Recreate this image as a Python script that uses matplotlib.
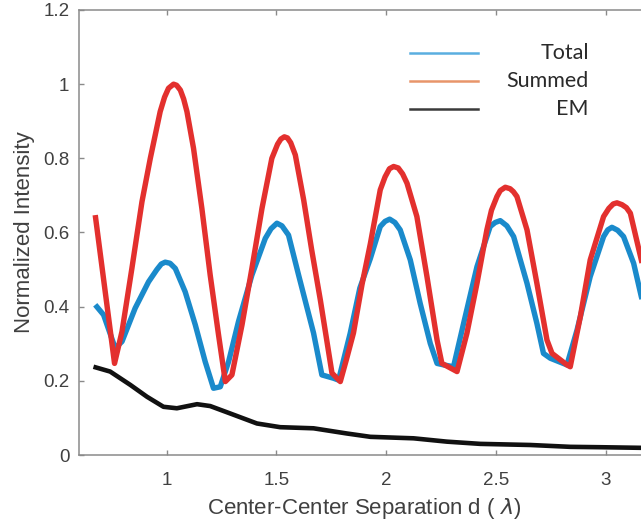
import matplotlib
matplotlib.use("Agg")
import matplotlib.pyplot as plt
from matplotlib.lines import Line2D

plt.rcParams['font.family'] = ['Liberation Sans', 'DejaVu Sans']

# ---- data ----
total_x = [0.674, 0.712, 0.765, 0.796, 0.856, 0.917, 0.955, 0.975, 0.993, 1.015, 1.039, 1.084, 1.130,
           1.175, 1.213, 1.244, 1.282, 1.327, 1.388, 1.449, 1.475, 1.502, 1.525, 1.555, 1.601, 1.669,
           1.707, 1.760, 1.783, 1.836, 1.880, 1.928, 1.973, 1.995, 2.016, 2.040, 2.064, 2.110, 2.155,
           2.201, 2.232, 2.262, 2.307, 2.353, 2.414, 2.474, 2.497, 2.520, 2.550, 2.581, 2.642, 2.687,
           2.717, 2.748, 2.824, 2.870, 2.930, 2.991, 3.010, 3.029, 3.055, 3.082, 3.128, 3.163, 3.2]
total_y = [0.405, 0.378, 0.288, 0.306, 0.396, 0.467, 0.500, 0.515, 0.520, 0.517, 0.503, 0.440, 0.351,
           0.252, 0.180, 0.184, 0.252, 0.360, 0.485, 0.584, 0.610, 0.625, 0.618, 0.593, 0.485, 0.329,
           0.216, 0.207, 0.202, 0.328, 0.450, 0.530, 0.616, 0.630, 0.636, 0.627, 0.607, 0.526, 0.409,
           0.301, 0.247, 0.243, 0.238, 0.355, 0.508, 0.616, 0.627, 0.632, 0.618, 0.589, 0.463, 0.355,
           0.274, 0.261, 0.243, 0.337, 0.481, 0.589, 0.607, 0.614, 0.606, 0.589, 0.517, 0.427, 0.35]

summed_x = [0.674, 0.762, 0.796, 0.841, 0.887, 0.925, 0.970, 0.990, 1.008, 1.031, 1.045, 1.062, 1.077,
            1.092, 1.122, 1.160, 1.198, 1.236, 1.267, 1.297, 1.343, 1.388, 1.434, 1.479, 1.505, 1.520,
            1.536, 1.550, 1.565, 1.586, 1.624, 1.660, 1.700, 1.753, 1.791, 1.820, 1.851, 1.890, 1.928,
            1.973, 1.995, 2.015, 2.034, 2.055, 2.075, 2.095, 2.140, 2.186, 2.232, 2.254, 2.323, 2.368,
            2.414, 2.459, 2.480, 2.505, 2.520, 2.543, 2.565, 2.580, 2.596, 2.642, 2.687, 2.733, 2.756,
            2.824, 2.839, 2.885, 2.930, 2.991, 3.015, 3.035, 3.052, 3.075, 3.095, 3.113, 3.163, 3.2]
summed_y = [0.647, 0.247, 0.333, 0.503, 0.683, 0.800, 0.926, 0.965, 0.989, 1.000, 0.997, 0.984, 0.960,
            0.926, 0.827, 0.665, 0.485, 0.324, 0.198, 0.216, 0.351, 0.503, 0.665, 0.800, 0.838, 0.852,
            0.858, 0.855, 0.842, 0.809, 0.688, 0.555, 0.418, 0.221, 0.198, 0.260, 0.329, 0.460, 0.570,
            0.715, 0.750, 0.772, 0.778, 0.774, 0.758, 0.733, 0.643, 0.481, 0.310, 0.247, 0.225, 0.328,
            0.463, 0.607, 0.660, 0.697, 0.713, 0.722, 0.718, 0.710, 0.697, 0.607, 0.463, 0.310, 0.274,
            0.243, 0.238, 0.373, 0.526, 0.643, 0.665, 0.677, 0.680, 0.675, 0.667, 0.652, 0.526, 0.43]

em_x = [0.666, 0.742, 0.834, 0.91, 0.985, 1.046, 1.138, 1.198, 1.289, 1.411, 1.517, 1.669, 1.821,
        1.928, 2.125, 2.277, 2.429, 2.657, 2.839, 2.976, 3.2]
em_y = [0.238, 0.225, 0.189, 0.157, 0.130, 0.126, 0.137, 0.132, 0.112, 0.085, 0.075, 0.072, 0.058,
        0.049, 0.045, 0.036, 0.030, 0.027, 0.022, 0.021, 0.019]

legend_labels = ["Total", "Summed", "EM"]
x_ticks = [1, 1.5, 2, 2.5, 3]
x_ticklabels = ["1", "1.5", "2", "2.5", "3"]
y_ticks = [0, 0.2, 0.4, 0.6, 0.8, 1.0, 1.2]
y_ticklabels = ["0", "0.2", "0.4", "0.6", "0.8", "1", "1.2"]

# ---- figure ----
W, H = 641, 525
fig = plt.figure(figsize=(W / 100, H / 100), dpi=100)

left_px, bottom_px, top_px = 79, 455, 10
xlim = (0.6, 3.2)
px_per_unit = 219.4
ax_w = (xlim[1] - xlim[0]) * px_per_unit
ax = fig.add_axes([left_px / W, (H - bottom_px) / H, ax_w / W, (bottom_px - top_px) / H])

blue = '#1A8ACB'
red = '#E3302E'
ax.plot(total_x, total_y, color=blue, lw=3.9, solid_joinstyle='round', solid_capstyle='butt', zorder=3)
ax.plot(summed_x, summed_y, color=red, lw=3.9, solid_joinstyle='round', solid_capstyle='butt', zorder=4)
ax.plot(em_x, em_y, color='#111111', lw=3.3, solid_joinstyle='round', solid_capstyle='butt', zorder=5)

ax.set_xlim(*xlim)
ax.set_ylim(0, 1.2)
ax.set_xticks(x_ticks)
ax.set_xticklabels(x_ticklabels)
ax.set_yticks(y_ticks)
ax.set_yticklabels(y_ticklabels)

grey = '#8a8a8a'
for s in ax.spines.values():
    s.set_color(grey)
    s.set_linewidth(1.1)
ax.tick_params(direction='in', length=3.5, width=1.0, color=grey, labelcolor='#404040',
               labelsize=13.5, top=True, right=True)
ax.tick_params(axis='x', pad=12)
ax.tick_params(axis='y', pad=7)

ax.set_xlabel(r"Center-Center Separation d ( $\lambda$)", fontsize=16, color='#404040', labelpad=5)
ax.set_ylabel("Normalized Intensity", fontsize=16, color='#404040', labelpad=6)

# ---- legend (drawn manually: handles left, labels right-aligned) ----
leg_colors = ['#5AAEE0', '#E8956A', '#3A3A3A']
leg_y = [52.7, 80.7, 109.3]
for lab, c, yy in zip(legend_labels, leg_colors, leg_y):
    fig.add_artist(Line2D([410 / W, 478 / W], [1 - yy / H, 1 - yy / H], color=c, lw=1.8,
                          transform=fig.transFigure))
    fig.text(589 / W, 1 - yy / H, lab, ha='right', va='center', fontsize=15.5,
             color='#2a2a2a', family=['Lato', 'DejaVu Sans'])

fig.savefig('out.png', dpi=100)
